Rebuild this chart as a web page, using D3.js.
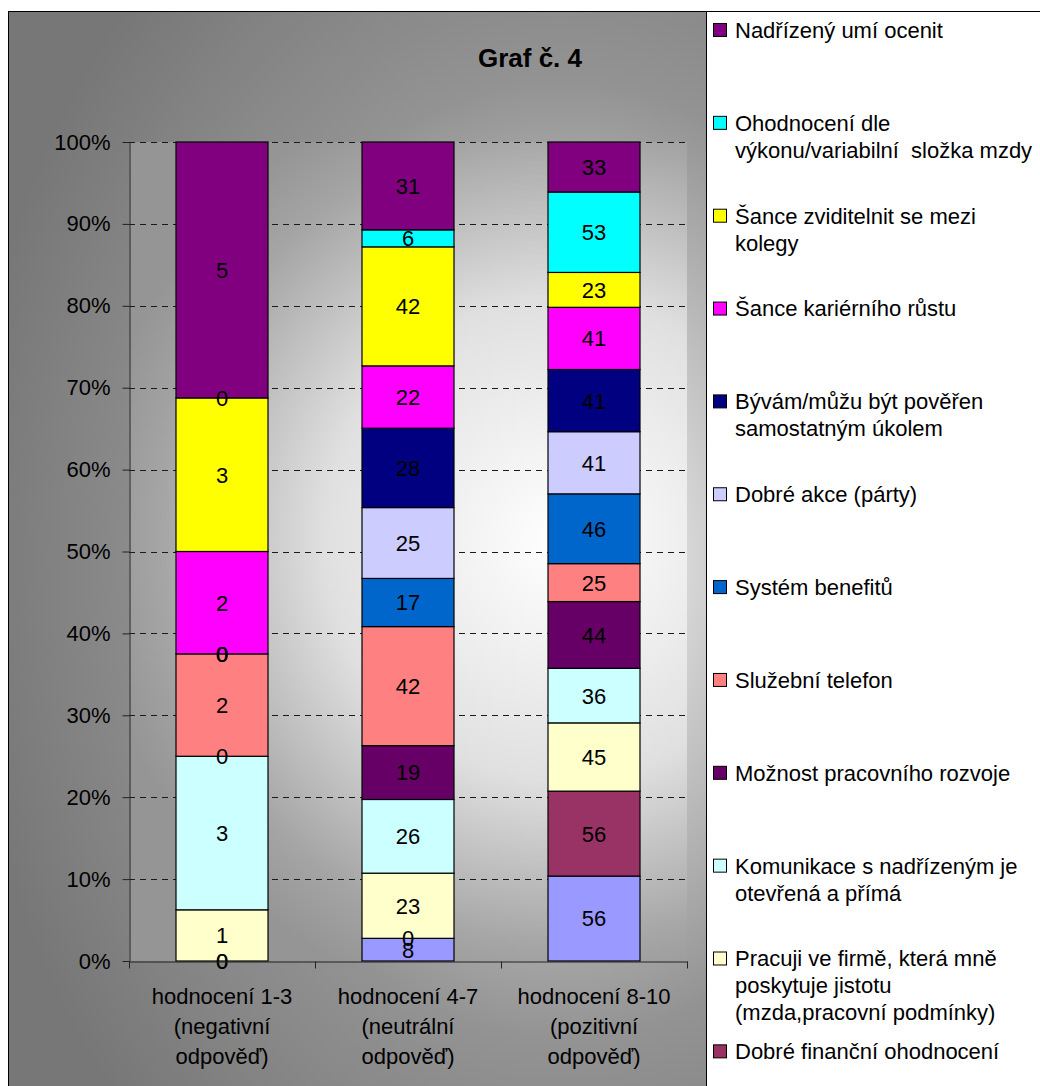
<!DOCTYPE html>
<html>
<head>
<meta charset="utf-8">
<script src="https://cdn.jsdelivr.net/npm/d3@7"></script>
<style>
  body { margin: 0; background: #fff; }
  svg text { font-family: "Liberation Sans", Arial, sans-serif; fill: #000; }
</style>
</head>
<body>
<div id="chart"></div>
<script>
(function () {
  'use strict';

  // categories (x axis), one label line per entry
  var categories = [
    ["hodnocení 1-3", "(negativní", "odpověď)"],
    ["hodnocení 4-7", "(neutrální", "odpověď)"],
    ["hodnocení 8-10", "(pozitivní", "odpověď)"]
  ];

  // series, bottom of the stack first; the first one's legend entry is cut off
  var seriesNames = [
    "",
    "Dobré finanční ohodnocení",
    "Pracuji ve firmě, která mně\nposkytuje jistotu\n(mzda,pracovní podmínky)",
    "Komunikace s nadřízeným je\notevřená a přímá",
    "Možnost pracovního rozvoje",
    "Služební telefon",
    "Systém benefitů",
    "Dobré akce (párty)",
    "Bývám/můžu být pověřen\nsamostatným úkolem",
    "Šance kariérního růstu",
    "Šance zviditelnit se mezi\nkolegy",
    "Ohodnocení dle\nvýkonu/variabilní  složka mzdy",
    "Nadřízený umí ocenit"
  ];

  var seriesColors = [
    "#9999FF", "#993366", "#FFFFCC", "#CCFFFF", "#660066", "#FF8080", "#0066CC",
    "#CCCCFF", "#000080", "#FF00FF", "#FFFF00", "#00FFFF", "#800080"
  ];

  // counts per category, same order as seriesNames
  var valuesNegative = [0, 0, 1, 3, 0, 2, 0, 0, 0, 2, 3, 0, 5];
  var valuesNeutral  = [8, 0, 23, 26, 19, 42, 17, 25, 28, 22, 42, 6, 31];
  var valuesPositive = [56, 56, 45, 36, 44, 25, 46, 41, 41, 41, 23, 53, 33];

  var yTicks = [0, 0.1, 0.2, 0.3, 0.4, 0.5, 0.6, 0.7, 0.8, 0.9, 1];

  var title = "Graf č. 4";

  var width = 1040, height = 1086;

  var svg = d3.select("#chart").append("svg")
      .attr("width", width)
      .attr("height", height);

  var defs = svg.append("defs");

  var chartGrad = defs.append("radialGradient")
      .attr("id", "chartGrad")
      .attr("gradientUnits", "userSpaceOnUse")
      .attr("cx", 560).attr("cy", 560).attr("r", 600)
      .attr("gradientTransform", "translate(560,560) scale(1,1.33) translate(-560,-560)");
  [[0, "#ffffff"], [0.25, "#cfcfcf"], [0.6, "#939393"], [1, "#777777"]].forEach(function(s) {
    chartGrad.append("stop").attr("offset", s[0]).attr("stop-color", s[1]);
  });

  var plotGrad = defs.append("radialGradient")
      .attr("id", "plotGrad")
      .attr("gradientUnits", "userSpaceOnUse")
      .attr("cx", 560).attr("cy", 540).attr("r", 470)
      .attr("gradientTransform", "translate(560,540) scale(1,1.02) translate(-560,-540)");
  [[0, "#ffffff"], [0.5, "#e0e0e0"], [0.85, "#a5a5a5"], [1, "#959595"]].forEach(function(s) {
    plotGrad.append("stop").attr("offset", s[0]).attr("stop-color", s[1]);
  });

  ///////////////////////////////////////////////
  // frame + backgrounds
  ///////////////////////////////////////////////

  svg.append("rect")
      .attr("x", 8.5).attr("y", 11.5)
      .attr("width", 698).attr("height", height)
      .attr("fill", "url(#chartGrad)")
      .attr("stroke", "#000");

  var margin = { left: 129, right: 687, top: 142, bottom: 961 };

  svg.append("rect")
      .attr("x", margin.left).attr("y", margin.top)
      .attr("width", margin.right - margin.left)
      .attr("height", margin.bottom - margin.top)
      .attr("fill", "url(#plotGrad)");

  svg.append("rect")
      .attr("x", 706.5).attr("y", 11.5)
      .attr("width", 400).attr("height", height)
      .attr("fill", "#fff")
      .attr("stroke", "#000");

  ///////////////////////////////////////////////
  // scales
  ///////////////////////////////////////////////

  var x = d3.scaleBand()
      .domain(d3.range(categories.length))
      .range([margin.left, margin.right])
      .paddingInner(0.5)
      .paddingOuter(0.25);

  var xEdges = d3.scaleLinear()
      .domain([0, categories.length])
      .range([margin.left, margin.right]);

  var y = d3.scaleLinear()
      .domain([0, 1])
      .range([margin.bottom, margin.top]);

  // gridlines
  svg.append("g")
      .selectAll("line")
      .data(yTicks.filter(function(d) { return d > 0; }))
      .enter().append("line")
        .attr("x1", margin.left)
        .attr("x2", margin.right)
        .attr("y1", function(d) { return Math.round(y(d)) + 0.5; })
        .attr("y2", function(d) { return Math.round(y(d)) + 0.5; })
        .attr("stroke", "#1a1a1a")
        .attr("stroke-dasharray", "6,5");

  ///////////////////////////////////////////////
  // stacked bars (100%)
  ///////////////////////////////////////////////

  var rows = [valuesNegative, valuesNeutral, valuesPositive].map(function(vals, i) {
    var r = { cat: i };
    vals.forEach(function(v, k) { r[k] = v; });
    return r;
  });

  var stack = d3.stack()
      .keys(d3.range(seriesNames.length))
      .offset(d3.stackOffsetExpand);

  var layers = stack(rows);

  var layerG = svg.append("g").selectAll("g")
      .data(layers)
      .enter().append("g")
        .attr("fill", function(d) { return seriesColors[d.key]; });

  layerG.selectAll("rect")
      .data(function(d) { return d; })
      .enter().append("rect")
        .attr("x", function(d) { return x(d.data.cat) + 0.5; })
        .attr("width", x.bandwidth() - 1)
        .attr("y", function(d) { return y(d[1]); })
        .attr("height", function(d) { return y(d[0]) - y(d[1]); })
        .attr("stroke", "#000")
        .attr("stroke-width", 1.2);

  // data labels
  var labelG = svg.append("g");
  layers.forEach(function(layer) {
    layer.forEach(function(d) {
      labelG.append("text")
          .attr("x", x(d.data.cat) + x.bandwidth() / 2)
          .attr("y", y((d[0] + d[1]) / 2))
          .attr("dy", "0.36em")
          .attr("text-anchor", "middle")
          .style("font-size", "22px")
          .text(d.data[layer.key]);
    });
  });

  ///////////////////////////////////////////////
  // axes
  ///////////////////////////////////////////////

  var yAxis = svg.append("g")
      .attr("transform", "translate(" + (margin.left + 0.5) + ",0)")
      .call(d3.axisLeft(y)
        .tickValues(yTicks)
        .tickFormat(d3.format(".0%"))
        .tickSize(7)
        .tickSizeOuter(0)
        .tickPadding(12));

  yAxis.select(".domain").attr("stroke", "#222");
  yAxis.selectAll(".tick line").attr("stroke", "#222");
  yAxis.selectAll(".tick text")
      .style("font-size", "22px")
      .attr("font-family", null);

  var xAxis = svg.append("g")
      .attr("transform", "translate(0," + (margin.bottom + 0.5) + ")")
      .call(d3.axisBottom(xEdges)
        .tickValues(d3.range(categories.length + 1))
        .tickFormat("")
        .tickSize(7)
        .tickSizeOuter(0));

  xAxis.select(".domain").attr("stroke", "#222");
  xAxis.selectAll(".tick line").attr("stroke", "#222");

  var catLabels = svg.append("g").selectAll("text")
      .data(categories)
      .enter().append("text")
        .attr("text-anchor", "middle")
        .style("font-size", "22px")
        .attr("transform", function(d, i) {
          return "translate(" + (x(i) + x.bandwidth() / 2) + "," + (margin.bottom + 43) + ")";
        });

  catLabels.selectAll("tspan")
      .data(function(d) { return d; })
      .enter().append("tspan")
        .attr("x", 0)
        .attr("y", function(d, i) { return i * 30; })
        .text(function(d) { return d; });

  // title
  svg.append("text")
      .attr("x", 530)
      .attr("y", 67)
      .attr("text-anchor", "middle")
      .style("font-size", "26px")
      .style("font-weight", "bold")
      .text(title);

  ///////////////////////////////////////////////
  // legend (top series first)
  ///////////////////////////////////////////////

  var legendOrder = d3.range(seriesNames.length).reverse();
  var legendStep = 92.85;

  var legend = svg.append("g").selectAll("g")
      .data(legendOrder)
      .enter().append("g")
        .attr("transform", function(d, i) { return "translate(713," + (30 + i * legendStep) + ")"; });

  legend.filter(function(d) { return seriesNames[d] !== ""; })
      .append("rect")
        .attr("x", 0.5)
        .attr("y", -6.5)
        .attr("width", 13)
        .attr("height", 13)
        .attr("fill", function(d) { return seriesColors[d]; })
        .attr("stroke", "#000");

  legend.append("text")
      .style("font-size", "22px")
      .selectAll("tspan")
      .data(function(d) { return seriesNames[d].split("\n"); })
      .enter().append("tspan")
        .attr("x", 22)
        .attr("y", function(d, i) { return i * 27; })
        .attr("dy", "0.36em")
        .style("white-space", "pre")
        .text(function(d) { return d; });

}());
</script>
</body>
</html>
